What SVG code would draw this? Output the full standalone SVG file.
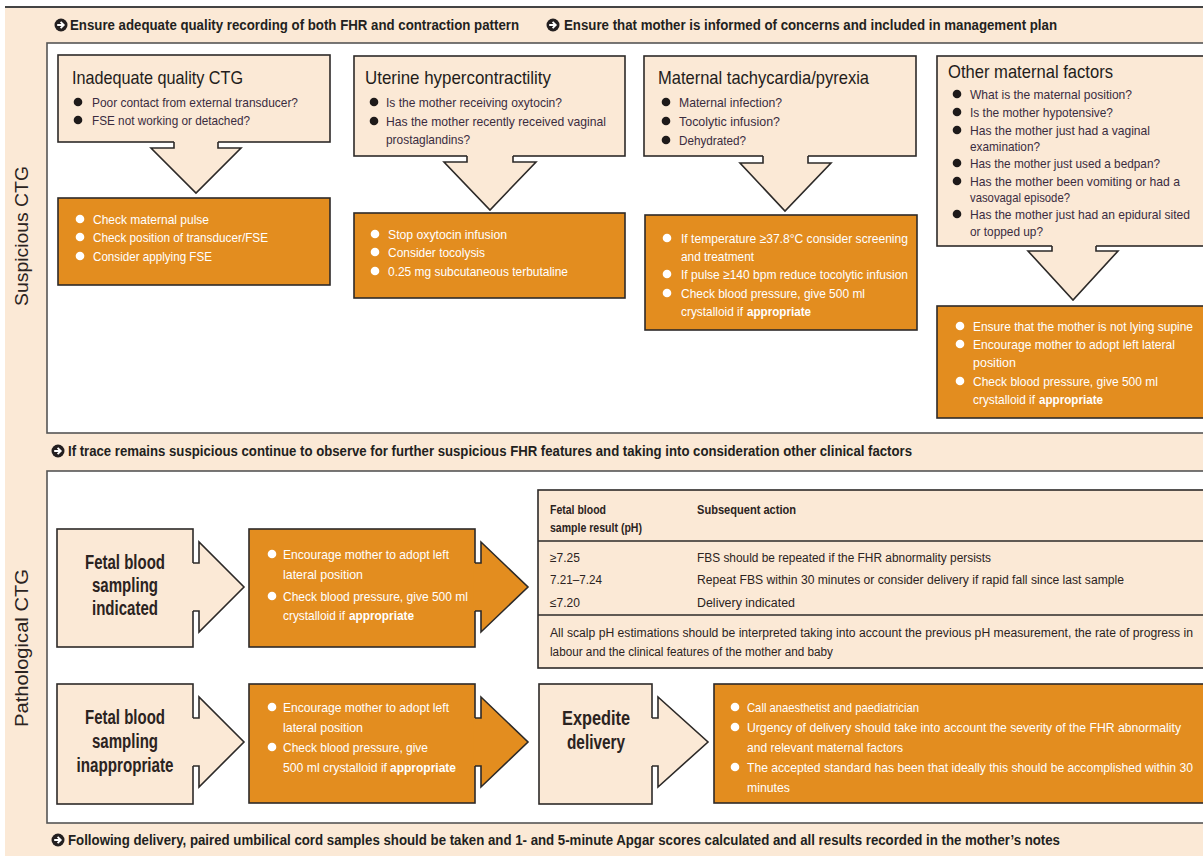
<svg xmlns="http://www.w3.org/2000/svg" width="1203" height="856" viewBox="0 0 1203 856">
<defs>
<style>
text{font-family:"Liberation Sans Narrow","Liberation Sans","DejaVu Sans Condensed",sans-serif}
.bg{fill:#FBE9D6}
.panel{fill:#fff;stroke:#555;stroke-width:1.6}
.bx{fill:#FBE9D6;stroke:#2d2a28;stroke-width:1.6}
.ob{fill:#E38D1F;stroke:#2d2a28;stroke-width:1.6}
.af{fill:#FBE9D6;stroke:none}
.ao{fill:#E38D1F;stroke:none}
.al{fill:none;stroke:#2d2a28;stroke-width:1.6;stroke-linejoin:miter}
.hdr{font-size:14px;font-weight:bold;fill:#231f20}
.ttl{font-size:19px;fill:#231c1a}
.bt{font-size:13px;fill:#3a2c3f}
.wt{font-size:13px;fill:#fff}
.wb{font-size:13px;fill:#fff;font-weight:bold}
.tb{font-size:12.5px;fill:#2b2321}
.tbh{font-size:12.5px;font-weight:bold;fill:#2b2321}
.big{font-size:20px;font-weight:bold;fill:#2b2321;text-anchor:middle}
.side{font-size:18px;fill:#2b2321;text-anchor:middle}
.bd{fill:#1e1a1a}
.bw{fill:#fff}
</style>
<g id="ico"><circle r="6.5" fill="#231f20"/><path d="M-3.8,0H2.6M-0.4,-3.2L2.8,0L-0.4,3.2" fill="none" stroke="#fff" stroke-width="1.8"/></g>
</defs>

<rect width="1203" height="856" fill="#fff"/>
<rect class="bg" x="5" y="8" width="1200" height="850"/>
<line x1="5" y1="7" x2="1203" y2="7" stroke="#444" stroke-width="2"/>

<g id="headers">
<use href="#ico" x="61" y="25"/>
<text class="hdr" x="70" y="30" textLength="449" lengthAdjust="spacingAndGlyphs">Ensure adequate quality recording of both FHR and contraction pattern</text>
<use href="#ico" x="553" y="25"/>
<text class="hdr" x="564" y="30" textLength="493" lengthAdjust="spacingAndGlyphs">Ensure that mother is informed of concerns and included in management plan</text>
<use href="#ico" x="58" y="451"/>
<text class="hdr" x="68" y="456" textLength="844" lengthAdjust="spacingAndGlyphs">If trace remains suspicious continue to observe for further suspicious FHR features and taking into consideration other clinical factors</text>
<use href="#ico" x="58" y="840"/>
<text class="hdr" x="68" y="845" textLength="992" lengthAdjust="spacingAndGlyphs">Following delivery, paired umbilical cord samples should be taken and 1- and 5-minute Apgar scores calculated and all results recorded in the mother’s notes</text>
</g>

<g id="side-labels">
<text class="side" transform="translate(28,236) rotate(-90)" textLength="140" lengthAdjust="spacingAndGlyphs">Suspicious CTG</text>
<text class="side" transform="translate(28,648) rotate(-90)" textLength="158" lengthAdjust="spacingAndGlyphs">Pathological CTG</text>
</g>

<g id="panels">
<rect class="panel" x="47" y="43" width="1170" height="390"/>
<rect class="panel" x="47" y="471" width="1170" height="352"/>
</g>

<g id="n-inadequate">
<rect class="bx" x="58" y="55" width="272" height="87"/>
<text class="ttl" x="72" y="84" textLength="171" lengthAdjust="spacingAndGlyphs">Inadequate quality CTG</text>
<circle class="bd" cx="78" cy="102" r="4.3"/><text class="bt" x="92" y="106.5" textLength="206" lengthAdjust="spacingAndGlyphs">Poor contact from external transducer?</text>
<circle class="bd" cx="78" cy="120" r="4.3"/><text class="bt" x="92" y="124.5" textLength="158" lengthAdjust="spacingAndGlyphs">FSE not working or detached?</text>
</g>
<g id="n-inadequate-action">
<rect class="ob" x="58" y="198" width="272" height="87"/>
<circle class="bw" cx="80" cy="219" r="4.3"/><text class="wt" x="93" y="223.5" textLength="116" lengthAdjust="spacingAndGlyphs">Check maternal pulse</text>
<circle class="bw" cx="80" cy="237" r="4.3"/><text class="wt" x="93" y="241.5" textLength="175" lengthAdjust="spacingAndGlyphs">Check position of transducer/FSE</text>
<circle class="bw" cx="80" cy="256" r="4.3"/><text class="wt" x="93" y="260.5" textLength="119" lengthAdjust="spacingAndGlyphs">Consider applying FSE</text>
</g>

<g id="n-uterine">
<rect class="bx" x="354" y="56" width="271" height="100"/>
<text class="ttl" x="365" y="84" textLength="186" lengthAdjust="spacingAndGlyphs">Uterine hypercontractility</text>
<circle class="bd" cx="374" cy="102" r="4.3"/><text class="bt" x="386" y="106.5" textLength="176" lengthAdjust="spacingAndGlyphs">Is the mother receiving oxytocin?</text>
<circle class="bd" cx="374" cy="121" r="4.3"/><text class="bt" x="386" y="125.5" textLength="220" lengthAdjust="spacingAndGlyphs">Has the mother recently received vaginal</text>
<text class="bt" x="386" y="143.5" textLength="84" lengthAdjust="spacingAndGlyphs">prostaglandins?</text>
</g>
<g id="n-uterine-action">
<rect class="ob" x="354" y="213" width="271" height="85"/>
<circle class="bw" cx="375" cy="234" r="4.3"/><text class="wt" x="388" y="238.5" textLength="119" lengthAdjust="spacingAndGlyphs">Stop oxytocin infusion</text>
<circle class="bw" cx="375" cy="252" r="4.3"/><text class="wt" x="388" y="256.5" textLength="97" lengthAdjust="spacingAndGlyphs">Consider tocolysis</text>
<circle class="bw" cx="375" cy="271" r="4.3"/><text class="wt" x="388" y="275.5" textLength="180" lengthAdjust="spacingAndGlyphs">0.25 mg subcutaneous terbutaline</text>
</g>

<g id="n-tachy">
<rect class="bx" x="644" y="56" width="272" height="100"/>
<text class="ttl" x="658" y="84" textLength="211" lengthAdjust="spacingAndGlyphs">Maternal tachycardia/pyrexia</text>
<circle class="bd" cx="666" cy="102" r="4.3"/><text class="bt" x="679" y="106.5" textLength="103" lengthAdjust="spacingAndGlyphs">Maternal infection?</text>
<circle class="bd" cx="666" cy="121" r="4.3"/><text class="bt" x="679" y="125.5" textLength="101" lengthAdjust="spacingAndGlyphs">Tocolytic infusion?</text>
<circle class="bd" cx="666" cy="140" r="4.3"/><text class="bt" x="679" y="144.5" textLength="67" lengthAdjust="spacingAndGlyphs">Dehydrated?</text>
</g>
<g id="n-tachy-action">
<rect class="ob" x="645" y="215" width="272" height="115"/>
<circle class="bw" cx="667" cy="238" r="4.3"/><text class="wt" x="681" y="242.5" textLength="227" lengthAdjust="spacingAndGlyphs">If temperature ≥37.8°C consider screening</text>
<text class="wt" x="681" y="260.5" textLength="73" lengthAdjust="spacingAndGlyphs">and treatment</text>
<circle class="bw" cx="667" cy="274" r="4.3"/><text class="wt" x="681" y="278.5" textLength="227" lengthAdjust="spacingAndGlyphs">If pulse ≥140 bpm reduce tocolytic infusion</text>
<circle class="bw" cx="667" cy="293" r="4.3"/><text class="wt" x="681" y="297.5" textLength="184" lengthAdjust="spacingAndGlyphs">Check blood pressure, give 500 ml</text>
<text class="wt" x="681" y="315.5" textLength="62" lengthAdjust="spacingAndGlyphs">crystalloid if</text>
<text class="wb" x="747" y="315.5" textLength="64" lengthAdjust="spacingAndGlyphs">appropriate</text>
</g>

<g id="n-other">
<rect class="bx" x="937" y="56" width="273" height="190"/>
<text class="ttl" x="948" y="78" textLength="165" lengthAdjust="spacingAndGlyphs">Other maternal factors</text>
<circle class="bd" cx="957" cy="94" r="4.3"/><text class="bt" x="970" y="98.5" textLength="162" lengthAdjust="spacingAndGlyphs">What is the maternal position?</text>
<circle class="bd" cx="957" cy="112" r="4.3"/><text class="bt" x="970" y="116.5" textLength="143" lengthAdjust="spacingAndGlyphs">Is the mother hypotensive?</text>
<circle class="bd" cx="957" cy="130" r="4.3"/><text class="bt" x="970" y="134.5" textLength="180" lengthAdjust="spacingAndGlyphs">Has the mother just had a vaginal</text>
<text class="bt" x="970" y="150.5" textLength="70" lengthAdjust="spacingAndGlyphs">examination?</text>
<circle class="bd" cx="957" cy="163" r="4.3"/><text class="bt" x="970" y="167.5" textLength="190" lengthAdjust="spacingAndGlyphs">Has the mother just used a bedpan?</text>
<circle class="bd" cx="957" cy="181" r="4.3"/><text class="bt" x="970" y="185.5" textLength="210" lengthAdjust="spacingAndGlyphs">Has the mother been vomiting or had a</text>
<text class="bt" x="970" y="201.5" textLength="100" lengthAdjust="spacingAndGlyphs">vasovagal episode?</text>
<circle class="bd" cx="957" cy="214" r="4.3"/><text class="bt" x="970" y="218.5" textLength="220" lengthAdjust="spacingAndGlyphs">Has the mother just had an epidural sited</text>
<text class="bt" x="970" y="235.5" textLength="73" lengthAdjust="spacingAndGlyphs">or topped up?</text>
</g>
<g id="n-other-action">
<rect class="ob" x="937" y="306" width="273" height="112"/>
<circle class="bw" cx="960" cy="326" r="4.3"/><text class="wt" x="973" y="330.5" textLength="220" lengthAdjust="spacingAndGlyphs">Ensure that the mother is not lying supine</text>
<circle class="bw" cx="960" cy="344" r="4.3"/><text class="wt" x="973" y="348.5" textLength="202" lengthAdjust="spacingAndGlyphs">Encourage mother to adopt left lateral</text>
<text class="wt" x="973" y="366.5" textLength="43" lengthAdjust="spacingAndGlyphs">position</text>
<circle class="bw" cx="960" cy="381" r="4.3"/><text class="wt" x="973" y="385.5" textLength="185" lengthAdjust="spacingAndGlyphs">Check blood pressure, give 500 ml</text>
<text class="wt" x="973" y="403.5" textLength="62" lengthAdjust="spacingAndGlyphs">crystalloid if</text>
<text class="wb" x="1039" y="403.5" textLength="64" lengthAdjust="spacingAndGlyphs">appropriate</text>
</g>

<g id="n-fbs-indicated">
<rect class="bx" x="57" y="529" width="136" height="118"/>
<text class="big" x="125" y="569" textLength="80" lengthAdjust="spacingAndGlyphs">Fetal blood</text>
<text class="big" x="125" y="592" textLength="66" lengthAdjust="spacingAndGlyphs">sampling</text>
<text class="big" x="125" y="615" textLength="66" lengthAdjust="spacingAndGlyphs">indicated</text>
</g>
<g id="n-fbs-indicated-action">
<rect class="ob" x="249" y="529" width="226" height="118"/>
<circle class="bw" cx="272" cy="554" r="4.3"/><text class="wt" x="283" y="558.5" textLength="166" lengthAdjust="spacingAndGlyphs">Encourage mother to adopt left</text>
<text class="wt" x="283" y="578.5" textLength="80" lengthAdjust="spacingAndGlyphs">lateral position</text>
<circle class="bw" cx="272" cy="596" r="4.3"/><text class="wt" x="283" y="600.5" textLength="185" lengthAdjust="spacingAndGlyphs">Check blood pressure, give 500 ml</text>
<text class="wt" x="283" y="619.5" textLength="62" lengthAdjust="spacingAndGlyphs">crystalloid if</text>
<text class="wb" x="349" y="619.5" textLength="65" lengthAdjust="spacingAndGlyphs">appropriate</text>
</g>

<g id="n-fbs-table">
<rect x="538" y="490" width="680" height="178" fill="#FBE9D6" stroke="#2d2a28" stroke-width="1.6"/>
<line x1="538" y1="541" x2="1210" y2="541" stroke="#2d2a28" stroke-width="1.3"/>
<line x1="538" y1="615" x2="1210" y2="615" stroke="#2d2a28" stroke-width="1.3"/>
<text class="tbh" x="550" y="514" textLength="56" lengthAdjust="spacingAndGlyphs">Fetal blood</text>
<text class="tbh" x="550" y="532" textLength="92" lengthAdjust="spacingAndGlyphs">sample result (pH)</text>
<text class="tbh" x="697" y="514" textLength="99" lengthAdjust="spacingAndGlyphs">Subsequent action</text>
<text class="tb" x="550" y="561.5" textLength="30" lengthAdjust="spacingAndGlyphs">≥7.25</text>
<text class="tb" x="550" y="583.5" textLength="52" lengthAdjust="spacingAndGlyphs">7.21–7.24</text>
<text class="tb" x="550" y="606.5" textLength="30" lengthAdjust="spacingAndGlyphs">≤7.20</text>
<text class="tb" x="697" y="561.5" textLength="294" lengthAdjust="spacingAndGlyphs">FBS should be repeated if the FHR abnormality persists</text>
<text class="tb" x="697" y="583.5" textLength="427" lengthAdjust="spacingAndGlyphs">Repeat FBS within 30 minutes or consider delivery if rapid fall since last sample</text>
<text class="tb" x="697" y="606.5" textLength="98" lengthAdjust="spacingAndGlyphs">Delivery indicated</text>
<text class="tb" x="550" y="636.5" textLength="643" lengthAdjust="spacingAndGlyphs">All scalp pH estimations should be interpreted taking into account the previous pH measurement, the rate of progress in</text>
<text class="tb" x="550" y="655.5" textLength="283" lengthAdjust="spacingAndGlyphs">labour and the clinical features of the mother and baby</text>
</g>

<g id="n-fbs-inappropriate">
<rect class="bx" x="57" y="684" width="136" height="120"/>
<text class="big" x="125" y="724" textLength="80" lengthAdjust="spacingAndGlyphs">Fetal blood</text>
<text class="big" x="125" y="748" textLength="66" lengthAdjust="spacingAndGlyphs">sampling</text>
<text class="big" x="125" y="772" textLength="97" lengthAdjust="spacingAndGlyphs">inappropriate</text>
</g>
<g id="n-fbs-inappropriate-action">
<rect class="ob" x="249" y="684" width="226" height="119"/>
<circle class="bw" cx="272" cy="707" r="4.3"/><text class="wt" x="283" y="711.5" textLength="166" lengthAdjust="spacingAndGlyphs">Encourage mother to adopt left</text>
<text class="wt" x="283" y="731.5" textLength="80" lengthAdjust="spacingAndGlyphs">lateral position</text>
<circle class="bw" cx="272" cy="747" r="4.3"/><text class="wt" x="283" y="751.5" textLength="145" lengthAdjust="spacingAndGlyphs">Check blood pressure, give</text>
<text class="wt" x="283" y="771.5" textLength="104" lengthAdjust="spacingAndGlyphs">500 ml crystalloid if</text>
<text class="wb" x="390" y="771.5" textLength="66" lengthAdjust="spacingAndGlyphs">appropriate</text>
</g>

<g id="n-expedite">
<rect class="bx" x="539" y="684" width="113" height="120"/>
<text class="big" x="596" y="725" textLength="68" lengthAdjust="spacingAndGlyphs">Expedite</text>
<text class="big" x="596" y="749" textLength="58" lengthAdjust="spacingAndGlyphs">delivery</text>
</g>
<g id="n-expedite-action">
<rect class="ob" x="714" y="684" width="500" height="119"/>
<circle class="bw" cx="735" cy="707" r="4.3"/><text class="wt" x="747" y="711.5" textLength="172" lengthAdjust="spacingAndGlyphs">Call anaesthetist and paediatrician</text>
<circle class="bw" cx="735" cy="727" r="4.3"/><text class="wt" x="747" y="731.5" textLength="434" lengthAdjust="spacingAndGlyphs">Urgency of delivery should take into account the severity of the FHR abnormality</text>
<text class="wt" x="747" y="751.5" textLength="156" lengthAdjust="spacingAndGlyphs">and relevant maternal factors</text>
<circle class="bw" cx="735" cy="767" r="4.3"/><text class="wt" x="747" y="771.5" textLength="446" lengthAdjust="spacingAndGlyphs">The accepted standard has been that ideally this should be accomplished within 30</text>
<text class="wt" x="747" y="791.5" textLength="43" lengthAdjust="spacingAndGlyphs">minutes</text>
</g>

<g id="connectors">
<polygon class="af" points="174,140.5 174,148 151,148 196,193 241,148 218,148 218,140.5"/>
<polyline class="al" points="174,142 174,148 151,148 196,193 241,148 218,148 218,142"/>
<polygon class="af" points="467,154.5 467,162 444,162 490,210 536,162 513,162 513,154.5"/>
<polyline class="al" points="467,156 467,162 444,162 490,210 536,162 513,162 513,156"/>
<polygon class="af" points="763,154.5 763,163 740,163 785,211 831,163 808,163 808,154.5"/>
<polyline class="al" points="763,156 763,163 740,163 785,211 831,163 808,163 808,156"/>
<polygon class="af" points="1052,244.5 1052,251 1028,251 1073,300 1118,251 1096,251 1096,244.5"/>
<polyline class="al" points="1052,246 1052,251 1028,251 1073,300 1118,251 1096,251 1096,246"/>

<polygon class="af" points="191.5,563 199,563 199,542 244,587 199,632 199,611 191.5,611"/>
<polyline class="al" points="193,563 199,563 199,542 244,587 199,632 199,611 193,611"/>
<polygon class="ao" points="473.5,563 481,563 481,542 528,587 481,632 481,611 473.5,611"/>
<polyline class="al" points="475,563 481,563 481,542 528,587 481,632 481,611 475,611"/>
<polygon class="af" points="191.5,718 199,718 199,697 244,742 199,787 199,766 191.5,766"/>
<polyline class="al" points="193,718 199,718 199,697 244,742 199,787 199,766 193,766"/>
<polygon class="ao" points="473.5,718 481,718 481,697 528,742 481,787 481,766 473.5,766"/>
<polyline class="al" points="475,718 481,718 481,697 528,742 481,787 481,766 475,766"/>
<polygon class="af" points="650.5,718 658,718 658,697 708,742 658,787 658,766 650.5,766"/>
<polyline class="al" points="652,718 658,718 658,697 708,742 658,787 658,766 652,766"/>
</g>
</svg>
